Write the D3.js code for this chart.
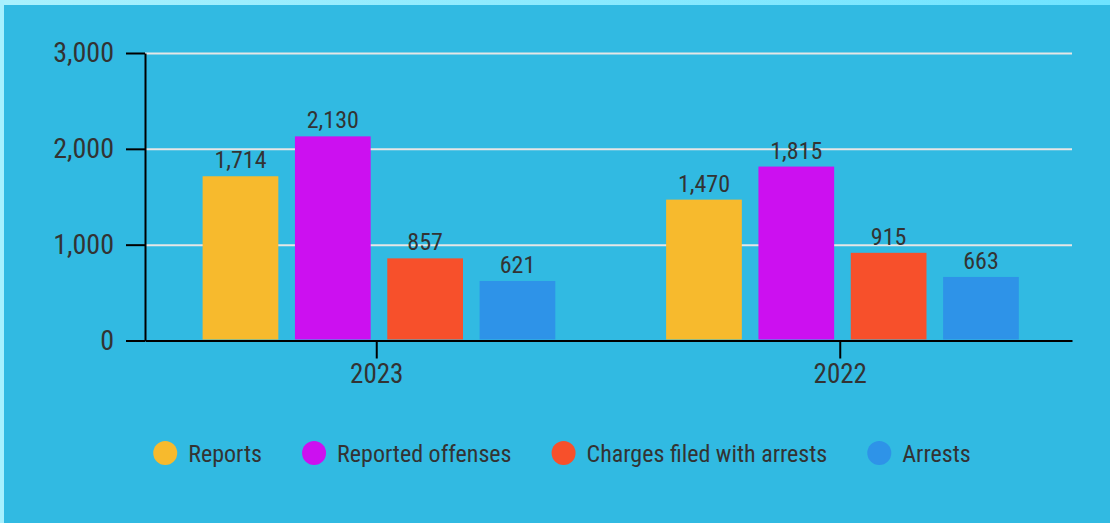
<!DOCTYPE html>
<html>
<head>
<meta charset="utf-8">
<script src="https://cdn.jsdelivr.net/npm/d3@7"></script>
<style>
  body { margin: 0; background: #31bae2; }
  svg text { font-family: "Roboto Condensed", "Liberation Sans Narrow", Roboto, sans-serif; fill: #333; }
</style>
</head>
<body>
<svg id="chart" width="1110" height="523"></svg>
<script>
// data
var years = ['2023', '2022'];
var seriesNames = ['Reports', 'Reported offenses', 'Charges filed with arrests', 'Arrests'];
var seriesColors = ['#f7ba2d', '#cc10f0', '#f7502b', '#2e93e8'];
var reports = [1714, 1470];
var reportedOffenses = [2130, 1815];
var chargesFiled = [857, 915];
var arrests = [621, 663];
var yTicks = [0, 1000, 2000, 3000];

var seriesValues = [reports, reportedOffenses, chargesFiled, arrests];

var svg = d3.select('#chart');

// light frame on top and left
var grad = svg.append('defs').append('linearGradient').attr('id', 'topg');
grad.append('stop').attr('offset', '0%').attr('stop-color', '#a9f1fd');
grad.append('stop').attr('offset', '100%').attr('stop-color', '#6ee3ff');
svg.append('rect').attr('x', 0).attr('y', 0).attr('width', 1110).attr('height', 5).attr('fill', 'url(#topg)');
svg.append('rect').attr('x', 0).attr('y', 0).attr('width', 4).attr('height', 523).attr('fill', '#a6f0fe');

var plotLeft = 145, plotRight = 1072, plotTop = 53, plotBottom = 340.5;

var x0 = d3.scaleBand().domain(years).range([plotLeft, plotRight]);
var x1 = d3.scaleBand().domain(seriesNames).range([0, x0.bandwidth()])
  .paddingInner(0.18).paddingOuter(0.6).align(0.52);
var y = d3.scaleLinear().domain([0, 3000]).range([plotBottom, plotTop]);

// gridlines
svg.append('g')
  .attr('transform', 'translate(' + plotLeft + ',0)')
  .call(d3.axisLeft(y).tickValues(yTicks.slice(1)).tickSize(-(plotRight - plotLeft)).tickFormat(''))
  .call(function(g) { g.select('.domain').remove(); })
  .selectAll('line')
  .attr('stroke', '#e6e6e6')
  .attr('stroke-width', 2);

// bars
var groups = svg.append('g').selectAll('g')
  .data(years)
  .enter()
  .append('g')
  .attr('transform', function(d) { return 'translate(' + x0(d) + ',0)'; });

groups.selectAll('rect')
  .data(function(d, i) {
    return seriesNames.map(function(s, j) { return { key: s, value: seriesValues[j][i], color: seriesColors[j] }; });
  })
  .enter()
  .append('rect')
  .attr('x', function(d) { return x1(d.key); })
  .attr('y', function(d) { return y(d.value); })
  .attr('width', x1.bandwidth())
  .attr('height', function(d) { return y(0) - y(d.value) - 1; })
  .attr('fill', function(d) { return d.color; });

groups.selectAll('text')
  .data(function(d, i) {
    return seriesNames.map(function(s, j) { return { key: s, value: seriesValues[j][i] }; });
  })
  .enter()
  .append('text')
  .attr('x', function(d) { return x1(d.key) + x1.bandwidth() / 2; })
  .attr('y', function(d) { return y(d.value) - 8; })
  .attr('text-anchor', 'middle')
  .style('font-size', '24px')
  .text(function(d) { return d3.format(',')(d.value); });

// y axis
var yAxis = svg.append('g')
  .attr('transform', 'translate(' + plotLeft + ',0)')
  .call(d3.axisLeft(y).tickValues(yTicks).tickSize(19).tickSizeOuter(0).tickPadding(12).tickFormat(d3.format(',')));
yAxis.selectAll('line').attr('stroke', '#000').attr('stroke-width', 2);
yAxis.select('.domain').attr('stroke', '#000').attr('stroke-width', 2);
yAxis.selectAll('text').style('font-size', '28px').attr('fill', '#333');

// x axis
var xAxis = svg.append('g')
  .attr('transform', 'translate(0,' + y(0) + ')')
  .call(d3.axisBottom(x0).tickSize(18).tickSizeOuter(0).tickPadding(5));
xAxis.selectAll('line').attr('stroke', '#000').attr('stroke-width', 2);
xAxis.select('.domain').attr('stroke', '#000').attr('stroke-width', 2);
xAxis.selectAll('text').style('font-size', '27px').attr('fill', '#333');

// legend
var legend = svg.append('g');
var items = legend.selectAll('g')
  .data(seriesNames)
  .enter()
  .append('g');
items.append('circle')
  .attr('r', 12)
  .attr('cx', 12)
  .attr('cy', 453)
  .attr('fill', function(d, i) { return seriesColors[i]; });
items.append('text')
  .attr('x', 35)
  .attr('y', 454)
  .attr('dy', '0.35em')
  .style('font-size', '24px')
  .text(function(d) { return d; });

var pos = 0;
var offsets = [];
items.each(function() {
  offsets.push(pos);
  var w = d3.select(this).select('text').node().getComputedTextLength();
  pos += 35 + w + 40;
});
var total = pos - 40;
var start = 562 - total / 2;
items.attr('transform', function(d, i) { return 'translate(' + (start + offsets[i]) + ',0)'; });
</script>
</body>
</html>
